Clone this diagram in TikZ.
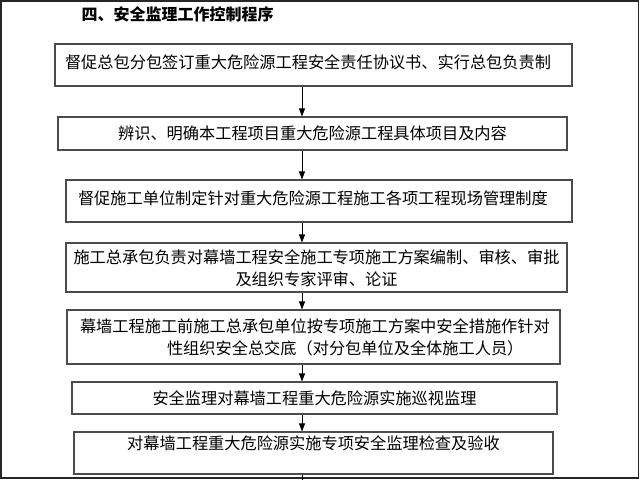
\documentclass[tikz,border=0pt]{standalone}
\usepackage{fontspec}
\setmainfont{Noto Sans CJK SC}
\usetikzlibrary{arrows.meta}
\tikzset{
	stepbox/.style={draw=black!70, line width=1.1pt, inner sep=0pt, anchor=base,
			font=\fontsize{16.2pt}{22pt}\selectfont},
	flow/.style={-{Triangle[length=8pt,width=6pt]}, line width=0.8pt}
}

\begin{document}
\begin{tikzpicture}[x=1pt,y=-1pt]
	\useasboundingbox (0,0) rectangle (640,480);

	% Outer frame
	\draw[line width=1.5pt, black!85] (0.75,0.75) rectangle (638.5,478);

	% Title
	\node[font=\fontsize{16pt}{20pt}\selectfont\bfseries, anchor=base west] (title) at (78,20) {四、安全监理工作控制程序};

	% Steps of the procedure
	\node[stepbox, text width=497pt, inner xsep=10pt, align=left, text height=24pt, text depth=18pt] (b1) at (313.5,68) {督促总包分包签订重大危险源工程安全责任协议书、实行总包负责制};
	\node[stepbox, text width=509pt, align=center, text height=22pt, text depth=11pt] (b2) at (312.5,139) {辨识、明确本工程项目重大危险源工程具体项目及内容};
	\node[stepbox, text width=482pt, inner xsep=12pt, align=left, text height=24pt, text depth=18pt] (b3) at (319,204) {督促施工单位制定针对重大危险源工程施工各项工程现场管理制度};
	\node[stepbox, text width=501pt, align=center, text height=20pt, text depth=29pt] (b4) at (316.5,263) {施工总承包负责对幕墙工程安全施工专项施工方案编制、审核、审批\\及组织专家评审、论证};
	\node[stepbox, text width=467pt, inner xsep=13pt, align=left, text height=22pt, text depth=32pt] (b5) at (313.5,332) {幕墙工程施工前施工总承包单位按专项施工方案中安全措施作针对\\\hspace*{87pt}性组织安全总交底（对分包单位及全体施工人员）};
	\node[stepbox, text width=485pt, align=center, text height=22pt, text depth=10pt] (b6) at (314.5,404) {安全监理对幕墙工程重大危险源实施巡视监理};
	\node[stepbox, text width=479pt, align=center, text height=17pt, text depth=25pt] (b7) at (313.5,449) {对幕墙工程重大危险源实施专项安全监理检查及验收};

	% Arrows
	\coordinate (axis) at (302,0);
	\coordinate (tail) at (302,480);
	\foreach \from/\to in {b1/b2,b2/b3,b3/b4,b4/b5,b5/b6,b6/b7}
		\draw[flow] (\from.south -| axis) -- (\to.north -| axis);
	\draw[line width=0.8pt] (b7.south -| axis) -- (tail);
\end{tikzpicture}
\end{document}
